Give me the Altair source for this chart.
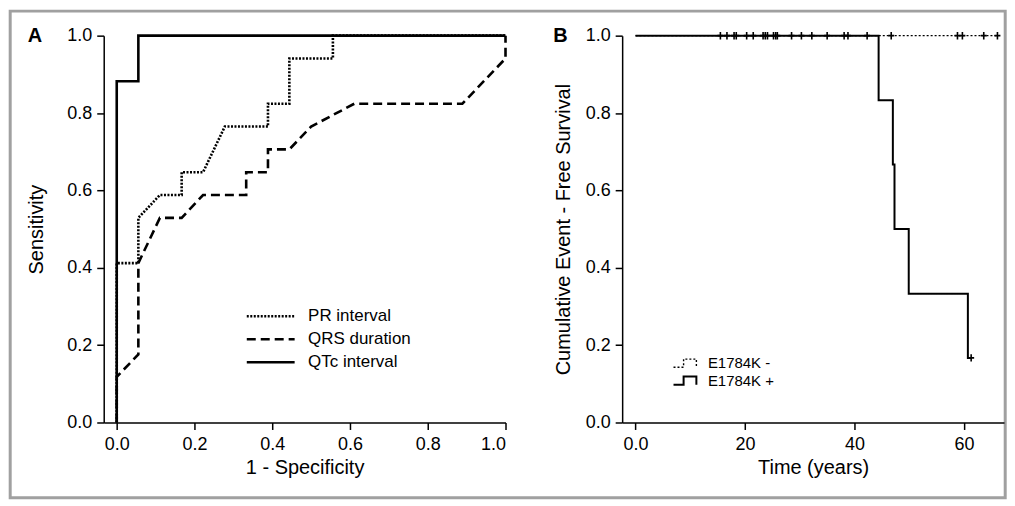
import altair as alt
import pandas as pd

FONT = "Liberation Sans"

# ---------------- Panel A: ROC curves ----------------
pr_x = [0, 0, 0.0556, 0.0556, 0.111, 0.167, 0.167, 0.222, 0.278, 0.389, 0.389, 0.444, 0.444, 0.556, 0.556, 1.0]
pr_y = [0, 0.412, 0.412, 0.529, 0.588, 0.588, 0.647, 0.647, 0.765, 0.765, 0.824, 0.824, 0.941, 0.941, 1.0, 1.0]
qrs_x = [0, 0, 0.0556, 0.0556, 0.111, 0.167, 0.222, 0.333, 0.333, 0.389, 0.389, 0.444, 0.5, 0.611, 0.889, 1.0, 1.0]
qrs_y = [0, 0.118, 0.176, 0.412, 0.529, 0.529, 0.588, 0.588, 0.647, 0.647, 0.706, 0.706, 0.765, 0.824, 0.824, 0.941, 1.0]
qtc_x = [0, 0, 0.0556, 0.0556, 1.0]
qtc_y = [0, 0.882, 0.882, 1.0, 1.0]
roc_names = ["PR interval", "QRS duration", "QTc interval"]

# ---------------- Panel B: Kaplan-Meier ----------------
pos_time = [0, 44.4, 47.0, 47.3, 49.9, 60.7, 61.3]
pos_surv = [1.0, 0.833, 0.667, 0.5, 0.333, 0.167, 0.167]
neg_time = [0, 66.1]
neg_surv = [1.0, 1.0]
neg_censor = [15.5, 16.7, 18.0, 18.4, 20.3, 21.5, 23.3, 23.7, 24.1, 25.2, 25.6, 25.9,
              28.5, 30.3, 32.2, 35.0, 38.1, 38.8, 42.3, 46.7, 58.8, 59.7, 63.6, 66.1]
pos_censor = [61.3]
pos_censor_surv = [0.167]
km_names = ["E1784K -", "E1784K +"]

rows = []
for name, xs, ys in zip(roc_names, [pr_x, qrs_x, qtc_x], [pr_y, qrs_y, qtc_y]):
    for i, (x, y) in enumerate(zip(xs, ys)):
        rows.append({"curve": name, "fpr": x, "tpr": y, "o": i})
roc_df = pd.DataFrame(rows)

km_rows = []
for name, ts, ss in zip(km_names, [neg_time, pos_time], [neg_surv, pos_surv]):
    for i, (t, s) in enumerate(zip(ts, ss)):
        km_rows.append({"group": name, "time": t, "surv": s, "o": i})
km_df = pd.DataFrame(km_rows)
cens_df = pd.DataFrame({
    "time": neg_censor + pos_censor,
    "surv": [1.0] * len(neg_censor) + pos_censor_surv,
})

# geometry (pixels)
WA, HA = 403, 388
WB, HB = 383, 388
GAP = 117

xA = alt.X("fpr:Q", scale=alt.Scale(domain=[-0.0335, 1.0], nice=False, zero=False),
           axis=alt.Axis(values=[0, 0.2, 0.4, 0.6, 0.8, 1.0], format=".1f",
                         title="1 - Specificity", titlePadding=4))
yA = alt.Y("tpr:Q", scale=alt.Scale(domain=[0, 1], nice=False),
           axis=alt.Axis(values=[0, 0.2, 0.4, 0.6, 0.8, 1.0], format=".1f",
                         title="Sensitivity", titlePadding=20))

linesA = alt.Chart(roc_df).mark_line(color="black", strokeWidth=2.6, clip=False).encode(
    x=xA, y=yA, order="o:Q",
    strokeDash=alt.StrokeDash(
        "curve:N",
        scale=alt.Scale(domain=roc_names, range=[[2, 1.5], [9, 5], [1, 0]]),
        legend=alt.Legend(orient="none", legendX=154, legendY=268, title=None,
                          symbolType="M-2,0H2", symbolSize=576, symbolStrokeWidth=2.6,
                          symbolStrokeColor="black", symbolFillColor="transparent",
                          labelFontSize=17, labelFont=FONT,
                          labelColor="black", labelOffset=24, rowPadding=1, padding=0),
    ),
)

frame = alt.Chart(pd.DataFrame({"k": [0]})).mark_rect(
    filled=False, stroke="#a0a0a0", strokeWidth=3, fill=None
).encode(x=alt.value(-93.8), x2=alt.value(904.2), y=alt.value(-24.6), y2=alt.value(463.4))

labelA = alt.Chart(pd.DataFrame({"t": ["A"]})).mark_text(
    font=FONT, fontSize=20, fontWeight="bold", color="black", align="center", baseline="middle"
).encode(text="t:N", x=alt.value(-69), y=alt.value(0))

panelA = alt.layer(frame, linesA, labelA).properties(width=WA, height=HA)

# ---------------- Panel B ----------------
xB = alt.X("time:Q", scale=alt.Scale(domain=[-2.44, 67.3], nice=False, zero=False),
           axis=alt.Axis(values=[0, 20, 40, 60],
                         labelExpr="datum.value == 0 ? '0.0' : datum.label",
                         title="Time (years)", titlePadding=4))
yB = alt.Y("surv:Q", scale=alt.Scale(domain=[0, 1], nice=False),
           axis=alt.Axis(values=[0, 0.2, 0.4, 0.6, 0.8, 1.0], format=".1f",
                         title="Cumulative Event - Free Survival", titlePadding=12))

step_path = "M-2,0.6H-0.5V-0.6H1.4V0.6"
linesB = alt.Chart(km_df).mark_line(color="black", interpolate="step-after", clip=False).encode(
    x=xB, y=yB, order="o:Q",
    strokeDash=alt.StrokeDash(
        "group:N",
        scale=alt.Scale(domain=km_names, range=[[2, 2], [1, 0]]),
        legend=alt.Legend(orient="none", legendX=57, legendY=321, title=None,
                          symbolType=step_path, symbolSize=182, symbolStrokeWidth=1.6,
                          symbolStrokeColor="black", symbolFillColor="transparent",
                          labelFontSize=15, labelFont=FONT, labelColor="black",
                          labelOffset=13, rowPadding=0, padding=0),
    ),
    strokeWidth=alt.StrokeWidth("group:N", scale=alt.Scale(domain=km_names, range=[1.4, 2.0]),
                                legend=None),
)

censB = alt.Chart(cens_df).mark_point(
    shape="M0,-1V1M-0.8,0H0.8", filled=False, stroke="black", strokeWidth=1.6, size=56,
    opacity=1, clip=False
).encode(x="time:Q", y="surv:Q")

labelB = alt.Chart(pd.DataFrame({"t": ["B"]})).mark_text(
    font=FONT, fontSize=20, fontWeight="bold", color="black", align="center", baseline="middle"
).encode(text="t:N", x=alt.value(-62), y=alt.value(0))

panelB = alt.layer(linesB, censB, labelB).properties(width=WB, height=HB)

chart = alt.hconcat(panelA, panelB, spacing=GAP, bounds="flush").resolve_scale(
    strokeDash="independent", strokeWidth="independent"
).resolve_legend(strokeDash="independent").properties(
    padding=0
).configure_view(stroke=None).configure_axis(
    grid=False, labelFont=FONT, titleFont=FONT, labelFontSize=18, titleFontSize=20,
    titleFontWeight="normal", labelColor="black", titleColor="black",
    domainColor="black", tickColor="black", domainWidth=1.5, tickWidth=1.5,
    tickSize=7, labelPadding=5,
).configure_axisX(labelPadding=6)

chart.save("out.html", embed_options={"renderer": "svg", "actions": False})
